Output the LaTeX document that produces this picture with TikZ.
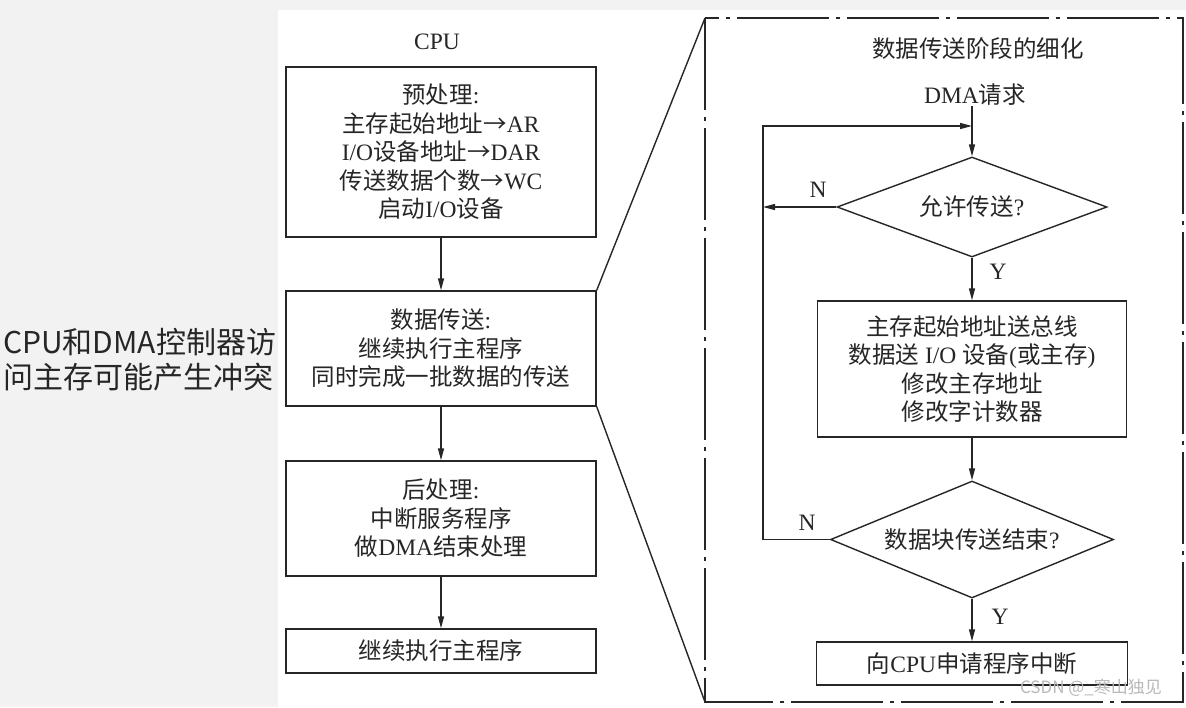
\documentclass[tikz,border=0pt]{standalone}
\usepackage{fontspec}
\setmainfont{Liberation Serif}
\newfontfamily\cjk{Noto Sans CJK SC}
\usetikzlibrary{arrows.meta,shapes.geometric}
\newcommand\zh[1]{{\cjk #1}}
\newcommand\dfont{\fontsize{23.5}{28.5}\selectfont}
\newcommand\lfont{\cjk\fontsize{30}{35}\selectfont}
\definecolor{bggray}{HTML}{F2F2F2}
\definecolor{ink}{HTML}{262626}
\begin{document}
\begin{tikzpicture}[x=1pt,y=-1pt,
  line/.style={line width=1.4pt, draw=ink},
  arr/.style={line, -{Triangle[length=12pt,width=6pt]}},
  box/.style={line, rectangle, inner sep=0pt, align=center, font=\dfont, text=ink},
  dec/.style={line, diamond, shape aspect=2.6, inner sep=0pt, align=center, font=\dfont, text=ink},
  lab/.style={font=\dfont, inner sep=0pt, text=ink}]
\useasboundingbox (0,0) rectangle (1186,707);
\fill[bggray] (0,0) rectangle (1186,707);
\fill[white] (278,10) rectangle (1186,707);

% left note
\node[font=\lfont, align=left, anchor=west, inner sep=0pt, text=ink] (note) at (3,359.5)
  {CPU和DMA控制器访\\问主存可能产生冲突};

% CPU column
\node[lab] (cpu) at (437,42) {CPU};
\node[box, minimum width=310pt, minimum height=170pt] (pre) at (441,152)
  {\zh{预处理}:\\ \zh{主存起始地址→}AR\\ I/O\zh{设备地址→}DAR\\ \zh{传送数据个数→}WC\\ \zh{启动}I/O\zh{设备}};
\node[box, minimum width=310pt, minimum height=115pt] (xfer) at (441,348.5)
  {\zh{数据传送}:\\ \zh{继续执行主程序}\\ \zh{同时完成一批数据的传送}};
\node[box, minimum width=310pt, minimum height=115pt] (post) at (441,518.5)
  {\zh{后处理}:\\ \zh{中断服务程序}\\ \zh{做}DMA\zh{结束处理}};
\node[box, minimum width=310pt, minimum height=44pt] (cont) at (441,651)
  {\zh{继续执行主程序}};
\draw[arr] (pre) -- (xfer);
\draw[arr] (xfer) -- (post);
\draw[arr] (post) -- (cont);

% detail frame
\coordinate (ftl) at (705,18);
\coordinate (fbr) at (1183,702);
\coordinate (fbl) at (705,702);
\draw[line, dash pattern=on 92pt off 7pt on 4pt off 7pt] (ftl) rectangle (fbr);
\draw[line] (xfer.north east) -- (ftl);
\draw[line] (xfer.south east) -- (fbl);

% detail flow
\node[lab] (title) at (978,49) {\zh{数据传送阶段的细化}};
\node[lab] (req) at (975,95) {DMA\zh{请求}};
\node[dec, minimum width=270pt, minimum height=100pt] (d1) at (972,207) {\zh{允许传送}?};
\node[box, minimum width=309pt, minimum height=136pt] (proc) at (972,369)
  {\zh{主存起始地址送总线}\\ \zh{数据送} I/O \zh{设备}(\zh{或主存})\\ \zh{修改主存地址}\\ \zh{修改字计数器}};
\node[dec, minimum width=283pt, minimum height=117pt] (d2) at (972,539.5) {\zh{数据块传送结束}?};
\node[box, minimum width=311pt, minimum height=43pt] (irq) at (972,663.5)
  {\zh{向}CPU\zh{申请程序中断}};

\coordinate (m) at (972,126);
\coordinate (lt) at (763,126);
\coordinate (lx1) at (763,207);
\coordinate (lx2) at (763,539.5);

\draw[arr] (req.south -| d1.north) -- (d1.north);
\draw[arr] (d1.west) -- (lx1);
\draw[arr] (d2.west) -- (lx2) -- (lt) -- (m);
\draw[arr] (d1.south) -- (proc.north);
\draw[arr] (proc.south) -- (d2.north);
\draw[arr] (d2.south) -- (irq.north);

\node[lab] (n1) at (818,190) {N};
\node[lab] (y1) at (998,272) {Y};
\node[lab] (n2) at (807,523) {N};
\node[lab] (y2) at (1000,617) {Y};

\node[font=\cjk\fontsize{17}{17}\selectfont, text=gray!55, inner sep=0pt] (wm) at (1091,688) {CSDN @\_寒山独见};
\end{tikzpicture}
\end{document}
